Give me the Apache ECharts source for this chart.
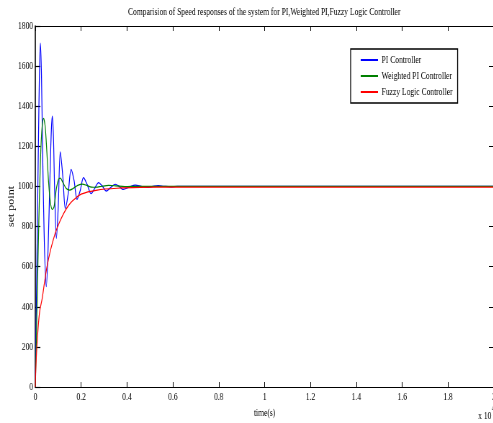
<!DOCTYPE html>
<html><head><meta charset="utf-8">
<script src="https://cdn.jsdelivr.net/npm/echarts@6/dist/echarts.min.js"></script>
<style>
html,body{margin:0;padding:0;background:#fff;overflow:hidden;width:493px;height:423px;}
#wrap{width:493px;height:423px;overflow:hidden;position:relative;}
#chart{width:686px;height:423px;transform:scaleX(0.72);transform-origin:0 0;}
</style></head>
<body><div id="wrap"><div id="chart"></div></div>
<script>
// ---- data (time in units of x10^4, speed) ----
const titleText = 'Comparision of Speed responses of the system for PI,Weighted PI,Fuzzy Logic Controller';
const seriesNames = ['PI Controller', 'Weighted PI Controller', 'Fuzzy Logic Controller'];
const xTicks = [0, 0.2, 0.4, 0.6, 0.8, 1, 1.2, 1.4, 1.6, 1.8, 2];
const yTicks = [0, 200, 400, 600, 800, 1000, 1200, 1400, 1600, 1800];

const piTime = [0, 0.004, 0.009, 0.014, 0.018, 0.022, 0.027, 0.033, 0.040, 0.048, 0.056, 0.064, 0.070, 0.074, 0.079, 0.085, 0.092, 0.100, 0.109, 0.120, 0.131, 0.143, 0.156, 0.169, 0.182, 0.196, 0.210, 0.226, 0.243, 0.259, 0.276, 0.292, 0.309, 0.329, 0.349, 0.366, 0.383, 0.410, 0.436, 0.462, 0.488, 0.512, 0.536, 0.560, 0.590, 0.620, 0.660, 2.0];
const piValue = [0, 350, 800, 1250, 1560, 1715, 1550, 1100, 700, 500, 700, 1050, 1280, 1351, 1250, 950, 741, 900, 1173, 1050, 890, 960, 1085, 1030, 935, 980, 1044, 1010, 964, 990, 1019, 1002, 977, 995, 1011, 1000, 985, 997, 1007, 1001, 995, 1000, 1004, 1001, 998, 1001, 1000, 1000];

const wpiTime = [0, 0.004, 0.008, 0.013, 0.018, 0.024, 0.030, 0.036, 0.043, 0.050, 0.058, 0.066, 0.074, 0.082, 0.092, 0.101, 0.109, 0.120, 0.135, 0.150, 0.165, 0.185, 0.205, 0.225, 0.245, 0.265, 0.290, 0.320, 0.350, 0.390, 0.450, 0.550, 2.0];
const wpiValue = [0, 200, 420, 700, 950, 1180, 1300, 1340, 1300, 1180, 1020, 920, 885, 900, 990, 1035, 1041, 1020, 990, 982, 990, 1005, 1012, 1005, 997, 996, 1001, 1005, 1003, 999, 1001, 1000, 1000];

const fuzzyTime = [0, 0.003, 0.007, 0.014, 0.020, 0.029, 0.040, 0.051, 0.068, 0.087, 0.105, 0.124, 0.145, 0.166, 0.200, 0.270, 0.356, 0.457, 0.600, 0.800, 2.0];
const fuzzyValue = [0, 110, 201, 319, 385, 434, 520, 600, 690, 767, 820, 866, 905, 932, 962, 982, 991, 995, 997, 997, 997];

const colors = ['#0000ff', '#008000', '#ff0000'];

function pairs(t, v) { return t.map((x, i) => [x, v[i]]); }
const plain = v => String(v);

const font = 'Liberation Serif';
const chart = echarts.init(document.getElementById('chart'), null, {renderer: 'canvas'});

const axisCommon = {
  axisLine: {show: true, onZero: false, lineStyle: {color: '#000', width: 1.2}},
  splitLine: {show: false},
};

chart.setOption({
  animation: false,
  backgroundColor: '#fff',
  title: {
    text: titleText, left: 367, top: 7, textAlign: 'center', padding: 0,
    textStyle: {fontFamily: font, fontSize: 10.5, fontWeight: 'normal', color: '#000'}
  },
  legend: {
    data: seriesNames, orient: 'vertical', left: 487, top: 49,
    backgroundColor: '#fff', borderColor: '#000', borderWidth: 1.3, borderRadius: 0,
    padding: [5, 7, 5, 14], itemGap: 4, itemWidth: 24, itemHeight: 2, icon: 'rect',
    textStyle: {fontFamily: font, fontSize: 10.5, color: '#000', lineHeight: 12}
  },
  grid: {left: 49, right: 0, top: 26, bottom: 36, containLabel: false, outerBoundsMode: 'none'},
  xAxis: [
    Object.assign({}, axisCommon, {
      type: 'value', position: 'bottom', min: xTicks[0], max: xTicks[xTicks.length - 1], interval: xTicks[1] - xTicks[0],
      axisTick: {inside: true, length: 5, lineStyle: {color: '#000'}},
      axisLabel: {margin: 5, fontFamily: font, fontSize: 10.5, color: '#000', showMaxLabel: true, showMinLabel: true, formatter: plain},
      name: 'time(s)', nameLocation: 'middle', nameGap: 21, nameMoveOverlap: false,
      nameTextStyle: {fontFamily: font, fontSize: 10.5, color: '#000'}
    }),
    Object.assign({}, axisCommon, {
      type: 'value', position: 'top', min: xTicks[0], max: xTicks[xTicks.length - 1], interval: xTicks[1] - xTicks[0],
      axisTick: {inside: true, length: 5, lineStyle: {color: '#000'}},
      axisLabel: {show: false}
    })
  ],
  yAxis: [
    Object.assign({}, axisCommon, {
      type: 'value', position: 'left', min: yTicks[0], max: yTicks[yTicks.length - 1], interval: yTicks[1] - yTicks[0],
      axisLine: {show: true, onZero: false, lineStyle: {color: '#000', width: 1.6}},
      axisTick: {inside: true, length: 7, lineStyle: {color: '#000', width: 1.2}},
      axisLabel: {margin: 3, fontFamily: font, fontSize: 10.5, color: '#000', formatter: plain},
      name: 'set point', nameLocation: 'middle', nameGap: 27, nameRotate: 90, nameMoveOverlap: false,
      nameTextStyle: {fontFamily: font, fontSize: 12, color: '#000'}
    }),
    Object.assign({}, axisCommon, {
      type: 'value', position: 'right', min: yTicks[0], max: yTicks[yTicks.length - 1], interval: yTicks[1] - yTicks[0],
      axisTick: {inside: true, length: 7, lineStyle: {color: '#000'}},
      axisLabel: {show: false}
    })
  ],
  graphic: [
    {type: 'text', left: 664, top: 411, style: {text: 'x 10', font: '10.5px "Liberation Serif"', fill: '#000'}},
    {type: 'text', left: 683, top: 405, style: {text: '4', font: '8px "Liberation Serif"', fill: '#000'}}
  ],
  series: [
    {name: seriesNames[0], type: 'line', data: pairs(piTime, piValue), showSymbol: false, smooth: 0.3, color: colors[0], lineStyle: {width: 1.2, color: colors[0]}},
    {name: seriesNames[1], type: 'line', data: pairs(wpiTime, wpiValue), showSymbol: false, smooth: 0.3, color: colors[1], lineStyle: {width: 1.2, color: colors[1]}},
    {name: seriesNames[2], type: 'line', data: pairs(fuzzyTime, fuzzyValue), showSymbol: false, smooth: 0.3, color: colors[2], lineStyle: {width: 1.2, color: colors[2]}}
  ]
});
</script>
</body></html>
